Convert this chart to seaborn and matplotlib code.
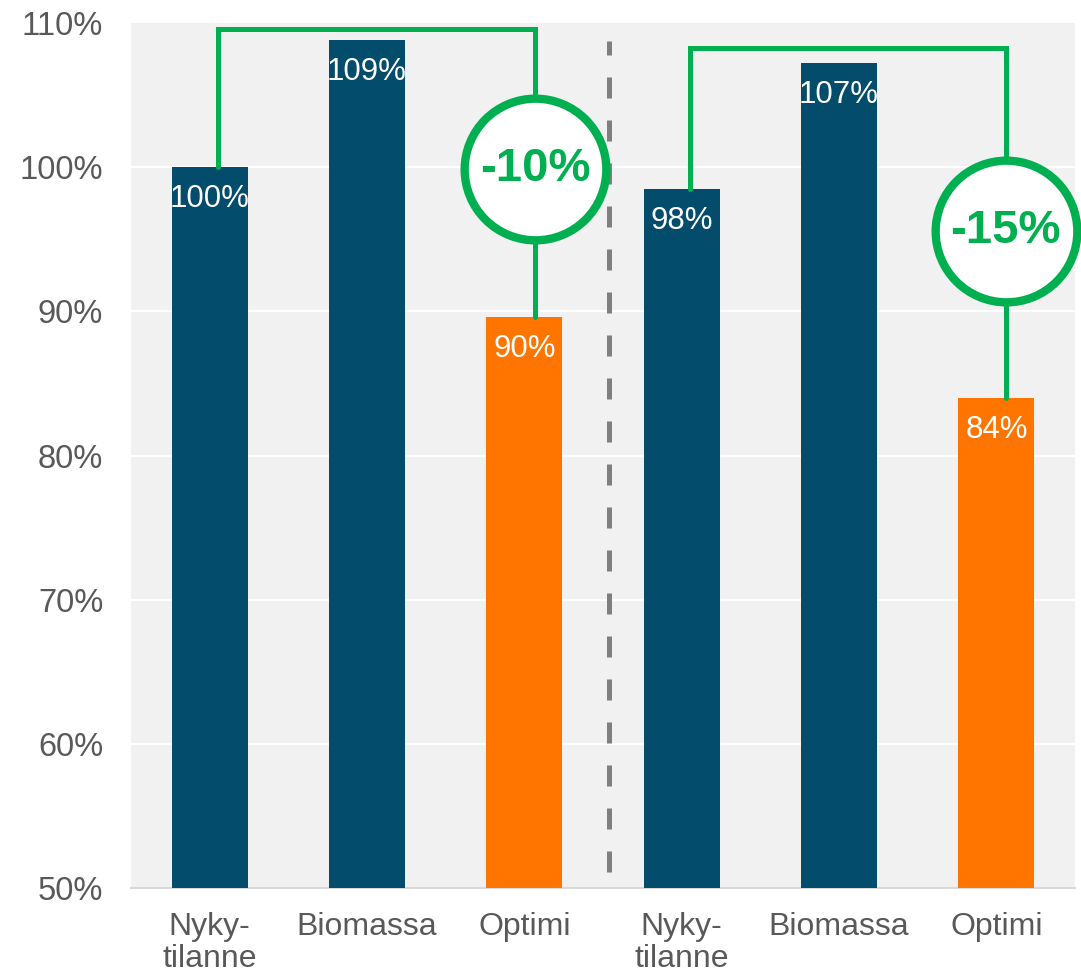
import matplotlib
matplotlib.use("Agg")
import matplotlib.pyplot as plt
import seaborn as sns
import pandas as pd

# Data
categories = ["Nyky-\ntilanne", "Biomassa", "Optimi", "Nyky-\ntilanne", "Biomassa", "Optimi"]
values = [100.0, 108.8, 89.6, 98.5, 107.2, 84.0]
groups = ["perus", "perus", "optimi", "perus", "perus", "optimi"]
y_ticks = [50, 60, 70, 80, 90, 100, 110]

palette = {"perus": "#034c6b", "optimi": "#ff7500"}
green = "#00b050"
text_gray = "#595959"

df = pd.DataFrame({
    "pos": [str(i) for i in range(len(values))],
    "value": values,
    "group": groups,
})

sns.set_theme(style="white")
plt.rcParams["font.family"] = ["Liberation Sans", "DejaVu Sans"]

fig = plt.figure(figsize=(10.81, 9.75), dpi=100)
ax = fig.add_axes([0.1212, 0.0892, 0.8733, 0.8872])
ax.set_facecolor("#f1f1f1")

sns.barplot(data=df, x="pos", y="value", hue="group", palette=palette,
            dodge=False, width=0.483, legend=False, ax=ax, zorder=3,
            saturation=1, linewidth=0)

ax.set_ylim(50, 110)
ax.set_xlim(-0.5, len(values) - 0.5)
ax.set_yticks(y_ticks)
ax.set_yticklabels([f"{t}%" for t in y_ticks], fontsize=23.5, color=text_gray)
ax.set_xticks(range(len(categories)))
ax.set_xticklabels(categories, fontsize=23, color=text_gray, linespacing=1.1)
ax.tick_params(axis="y", length=0, pad=20)
ax.tick_params(axis="x", length=0, pad=17)
ax.set_xlabel("")
ax.set_ylabel("")

# Gridlines
for t in y_ticks[1:-1]:
    ax.axhline(t, color="white", lw=1.6, zorder=1)

for side in ["left", "right", "top"]:
    ax.spines[side].set_visible(False)
ax.spines["bottom"].set_color("#d9d9d9")
ax.spines["bottom"].set_linewidth(1.5)

# Value labels inside the bars
for i, v in enumerate(values):
    ax.annotate(f"{v:.0f}%", (i, v), xytext=(0, -23), textcoords="offset points",
                ha="center", va="center", color="white", fontsize=22.5, zorder=5)

# Dashed separator between the two scenarios
ax.plot([2.54, 2.54], [51.1, 108.75], color="#7f7f7f", lw=3.6,
        dashes=(4.2, 4.4), zorder=2)

# Change brackets with circled percentages
def bracket(i0, i1, top, circle_y, off0, off1):
    x0, x1 = i0 + off0, i1 + off1
    y0, y1 = values[i0], values[i1]
    ax.plot([x0, x0, x1, x1], [y0, top, top, y1], color=green, lw=3.6,
            solid_joinstyle="miter", zorder=6, clip_on=False)
    ax.plot([x1], [circle_y], marker="o", markersize=102, markerfacecolor="white",
            markeredgecolor=green, markeredgewidth=6, zorder=7, clip_on=False)
    change = (y1 / y0 - 1) * 100
    ax.text(x1, circle_y, f"{change:.0f}%", ha="center", va="center", color=green,
            fontsize=34, fontweight="bold", zorder=8)

bracket(0, 2, 109.6, 99.9, 0.05, 0.07)
bracket(3, 5, 108.3, 95.6, 0.05, 0.06)

fig.savefig("out.png", dpi=100)
